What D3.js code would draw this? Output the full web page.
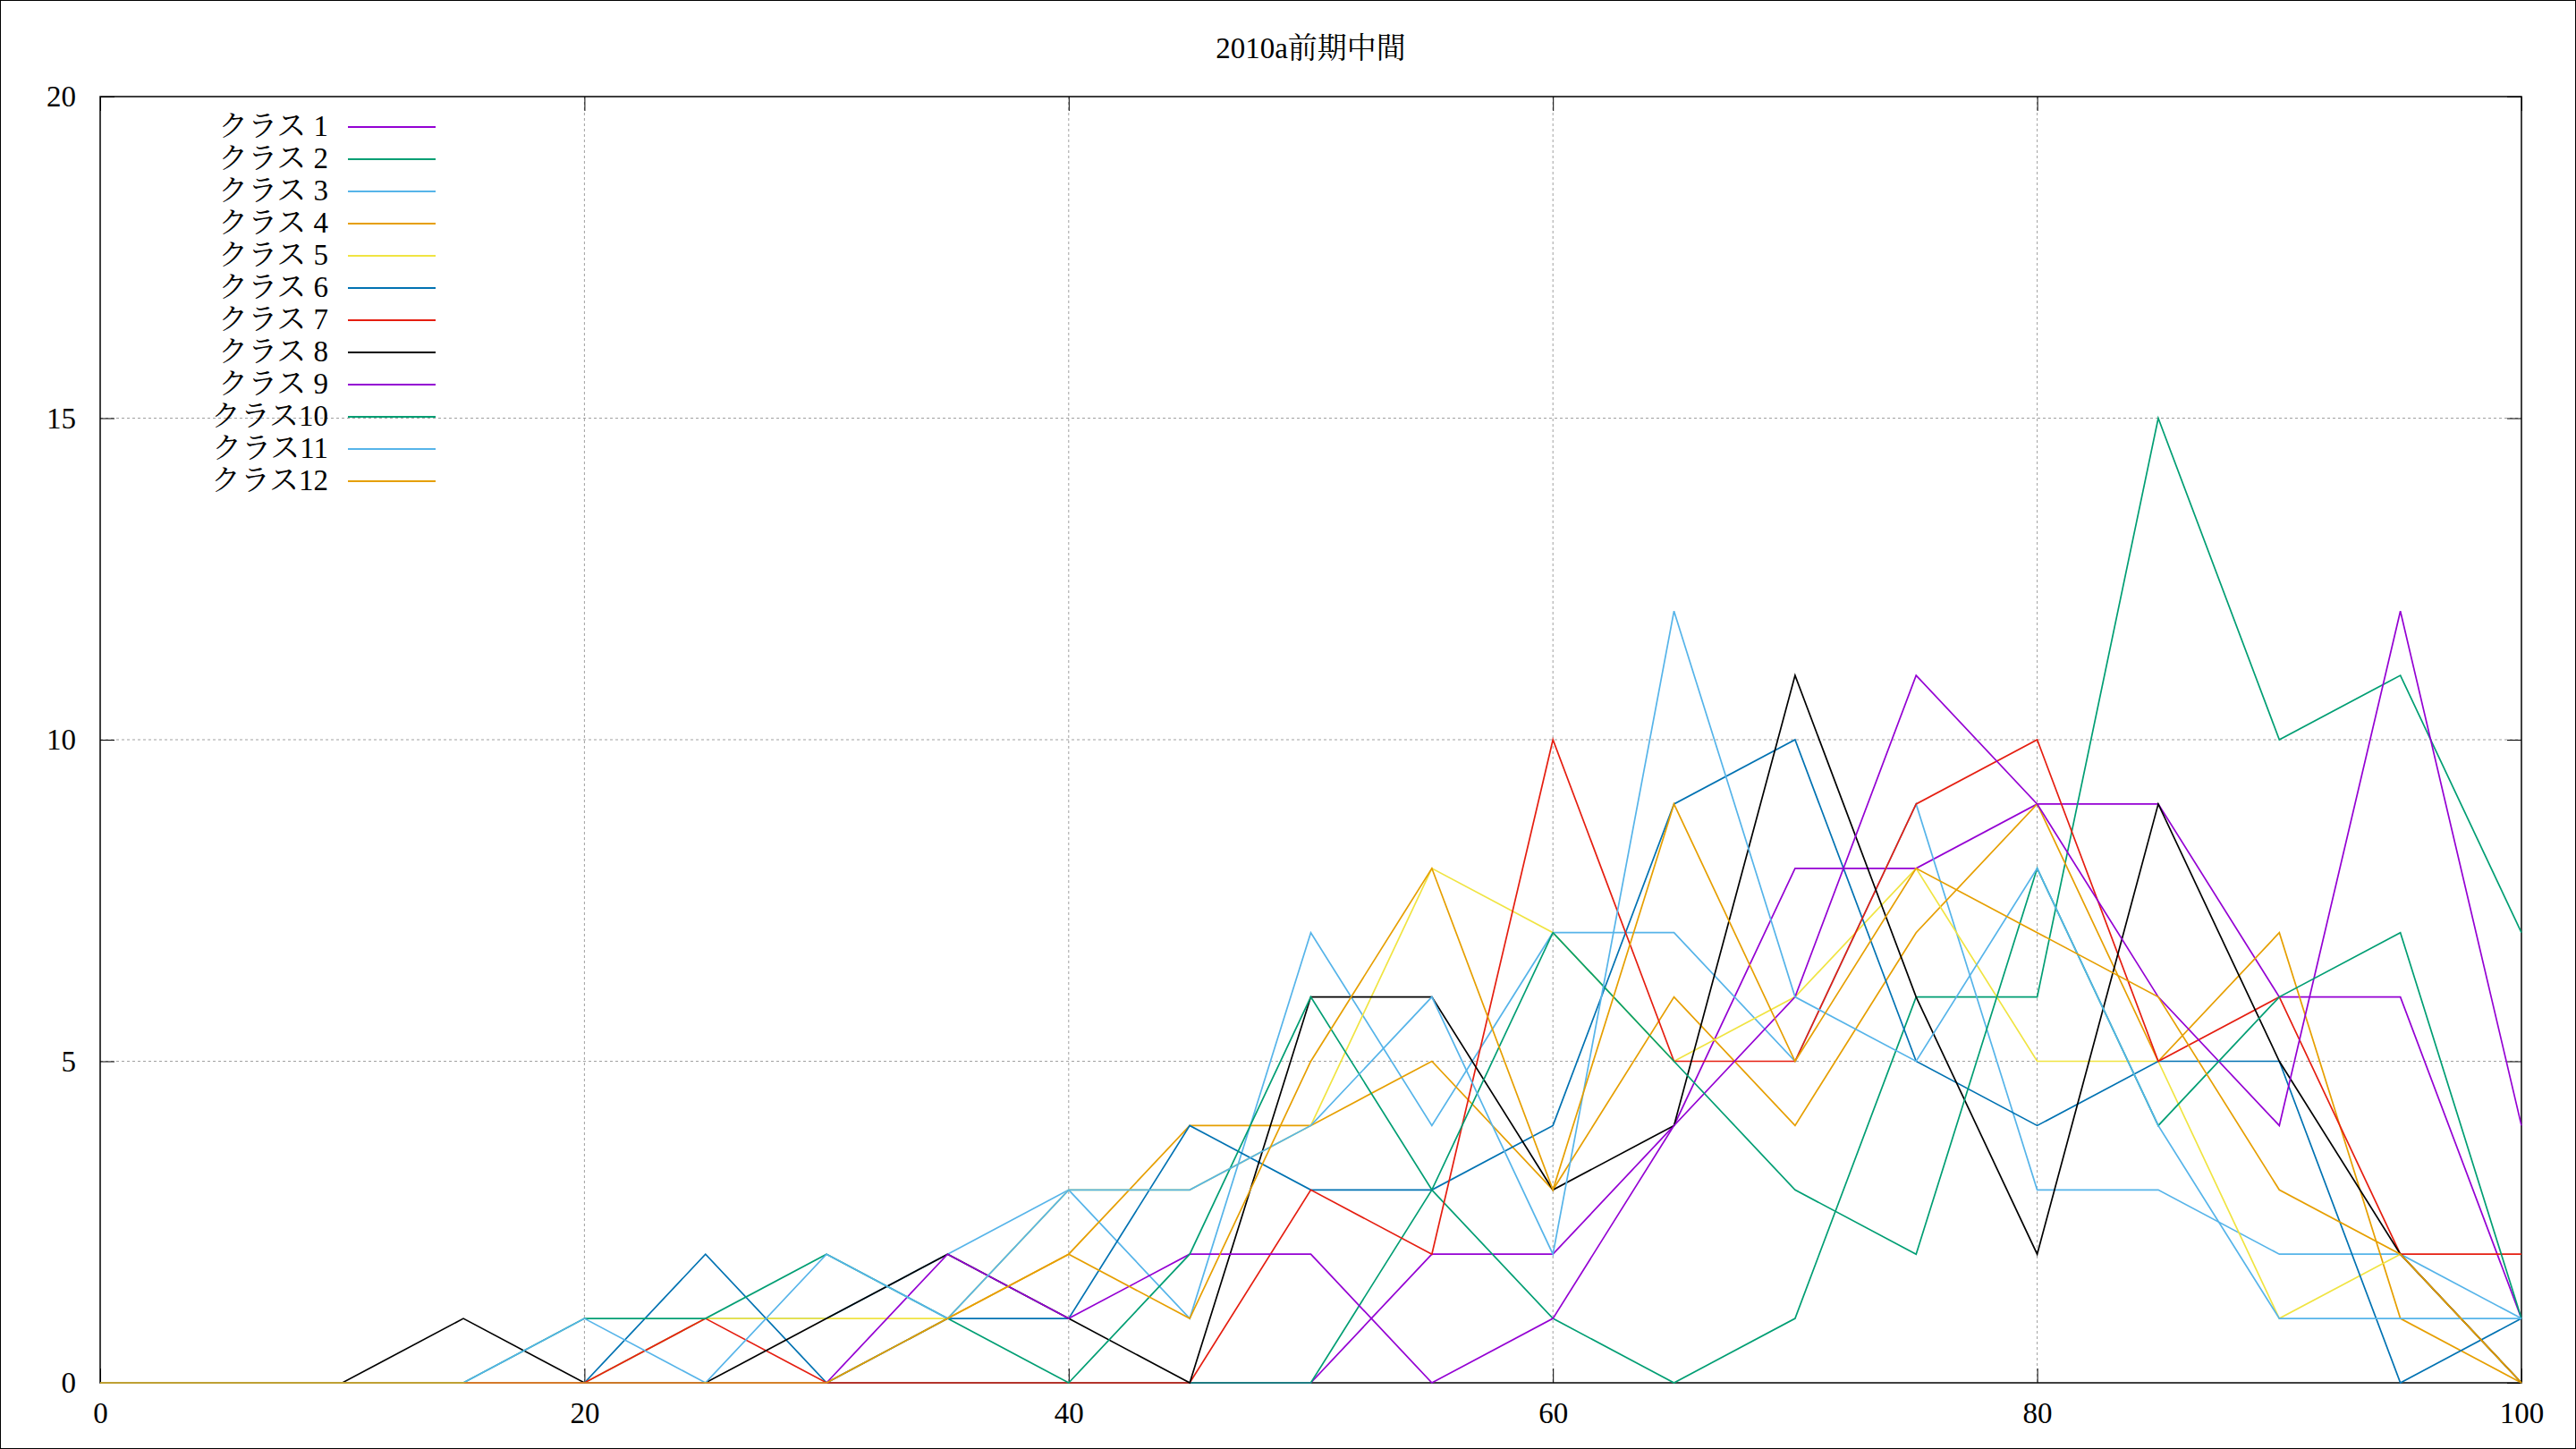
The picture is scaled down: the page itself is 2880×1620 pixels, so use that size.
<!DOCTYPE html>
<html>
<head>
<meta charset="utf-8">
<script src="https://cdn.jsdelivr.net/npm/d3@7"></script>
<style>
html,body{margin:0;padding:0;background:#fff;}
svg{display:block;}
text{font-family:"Liberation Serif","DejaVu Serif","Noto Serif CJK JP","Noto Sans CJK JP",serif;fill:#000;}
</style>
</head>
<body>
<script>
// ---- data ----
const title = "2010a前期中間";
const xValues = [0,5,10,15,20,25,30,35,40,45,50,55,60,65,70,75,80,85,90,95,100];
const xTicks = [0,20,40,60,80,100];
const yTicks = [0,5,10,15,20];
const seriesNames = ["クラス 1","クラス 2","クラス 3","クラス 4","クラス 5","クラス 6","クラス 7","クラス 8","クラス 9","クラス10","クラス11","クラス12"];
const class1  = [0,0,0,0,0,0,0,0,0,0,0,2,2,4,8,8,9,9,6,6,1];
const class2  = [0,0,0,0,0,0,0,0,0,0,0,3,1,0,1,6,6,15,10,11,7];
const class3  = [0,0,0,0,0,1,1,2,3,1,7,4,7,7,5,9,3,3,2,2,1];
const class4  = [0,0,0,0,0,0,0,1,2,4,4,5,3,6,4,7,9,5,7,1,0];
const class5  = [0,0,0,0,0,1,1,1,3,3,4,8,7,5,6,8,5,5,1,2,0];
const class6  = [0,0,0,0,0,2,0,1,1,4,3,3,4,9,10,5,4,5,5,0,1];
const class7  = [0,0,0,0,0,1,0,0,0,0,3,2,10,5,5,9,10,5,6,2,2];
const class8  = [0,0,0,1,0,0,1,2,1,0,6,6,3,4,11,6,2,9,5,2,0];
const class9  = [0,0,0,0,0,0,0,2,1,2,2,0,1,4,6,11,9,6,4,12,4];
const class10 = [0,0,0,0,1,1,2,1,0,2,6,3,7,5,3,2,8,4,6,7,1];
const class11 = [0,0,0,0,1,0,2,1,3,3,4,6,2,12,6,5,8,4,1,1,1];
const class12 = [0,0,0,0,0,0,0,1,2,1,5,8,3,9,5,8,7,6,3,2,0];

// ---- styles ----
const seriesColors = ["#9400d3","#009e73","#56b4e9","#e69f00","#f0e442","#0072b2","#e51e10","#000000","#9400d3","#009e73","#56b4e9","#e69f00"];

const allSeries = [class1,class2,class3,class4,class5,class6,class7,class8,class9,class10,class11,class12];

const W = 2880, H = 1620;
const L = 112, R = 2819, T = 108, B = 1546;
const svg = d3.select("body").append("svg").attr("width", W).attr("height", H);
svg.append("rect").attr("x",0).attr("y",0).attr("width",W).attr("height",H).attr("fill","#fff");
svg.append("rect").attr("x",0.5).attr("y",0.5).attr("width",W-1).attr("height",H-1)
  .attr("fill","none").attr("stroke","#000").attr("stroke-width",1);

const x = d3.scaleLinear().domain([0,100]).range([L,R]);
const y = d3.scaleLinear().domain([0,20]).range([B,T]);

// grid
const grid = svg.append("g");
grid.selectAll("line.gx").data(xTicks.filter(d => d>0 && d<100)).join("line")
  .attr("x1", d=>x(d)).attr("x2", d=>x(d)).attr("y1", T).attr("y2", B)
  .attr("stroke","#a0a0a0").attr("stroke-width",1).attr("stroke-dasharray","3,3");
grid.selectAll("line.gy").data(yTicks.filter(d => d>0 && d<20)).join("line")
  .attr("x1", L).attr("x2", R).attr("y1", d=>y(d)).attr("y2", d=>y(d))
  .attr("stroke","#a0a0a0").attr("stroke-width",1).attr("stroke-dasharray","3,3");

// axes
const fontSize = 33;
const axB = svg.append("g").attr("transform",`translate(0,${B})`)
  .call(d3.axisBottom(x).tickValues(xTicks).tickSize(-16).tickPadding(22).tickFormat(d3.format("d")));
const axL = svg.append("g").attr("transform",`translate(${L},0)`)
  .call(d3.axisLeft(y).tickValues(yTicks).tickSize(-16).tickPadding(27).tickFormat(d3.format("d")));
const axT = svg.append("g").attr("transform",`translate(0,${T})`)
  .call(d3.axisTop(x).tickValues(xTicks).tickSize(-16).tickFormat(""));
const axR = svg.append("g").attr("transform",`translate(${R},0)`)
  .call(d3.axisRight(y).tickValues(yTicks).tickSize(-16).tickFormat(""));
[axB,axL,axT,axR].forEach(g => {
  g.select(".domain").remove();
  g.selectAll(".tick line").attr("stroke","#000").attr("stroke-width",1);
  g.selectAll("text").attr("font-size",fontSize)
    .attr("font-family",'"Liberation Serif","DejaVu Serif",serif').attr("fill","#000");
});

// border
svg.append("rect").attr("x",L).attr("y",T).attr("width",R-L).attr("height",B-T)
  .attr("fill","none").attr("stroke","#000").attr("stroke-width",1.5);

// title
svg.append("text").attr("x",(L+R)/2).attr("y",65).attr("text-anchor","middle")
  .attr("font-size",fontSize).text(title);

// lines
const line = d3.line().x((d,i)=>x(xValues[i])).y(d=>y(d));
svg.append("g").selectAll("path").data(allSeries).join("path")
  .attr("d", d=>line(d)).attr("fill","none")
  .attr("stroke",(d,i)=>seriesColors[i]).attr("stroke-width",1.7)
  .attr("stroke-linejoin","miter");

// legend
const lg = svg.append("g");
const rowY = i => 142 + i*36;
lg.selectAll("text").data(seriesNames).join("text")
  .attr("x", 367).attr("y",(d,i)=>rowY(i)+10).attr("text-anchor","end")
  .attr("font-size",fontSize).text(d=>d);
lg.selectAll("line").data(seriesNames).join("line")
  .attr("x1",389).attr("x2",487).attr("y1",(d,i)=>rowY(i)).attr("y2",(d,i)=>rowY(i))
  .attr("stroke",(d,i)=>seriesColors[i]).attr("stroke-width",2);
</script>
</body>
</html>
